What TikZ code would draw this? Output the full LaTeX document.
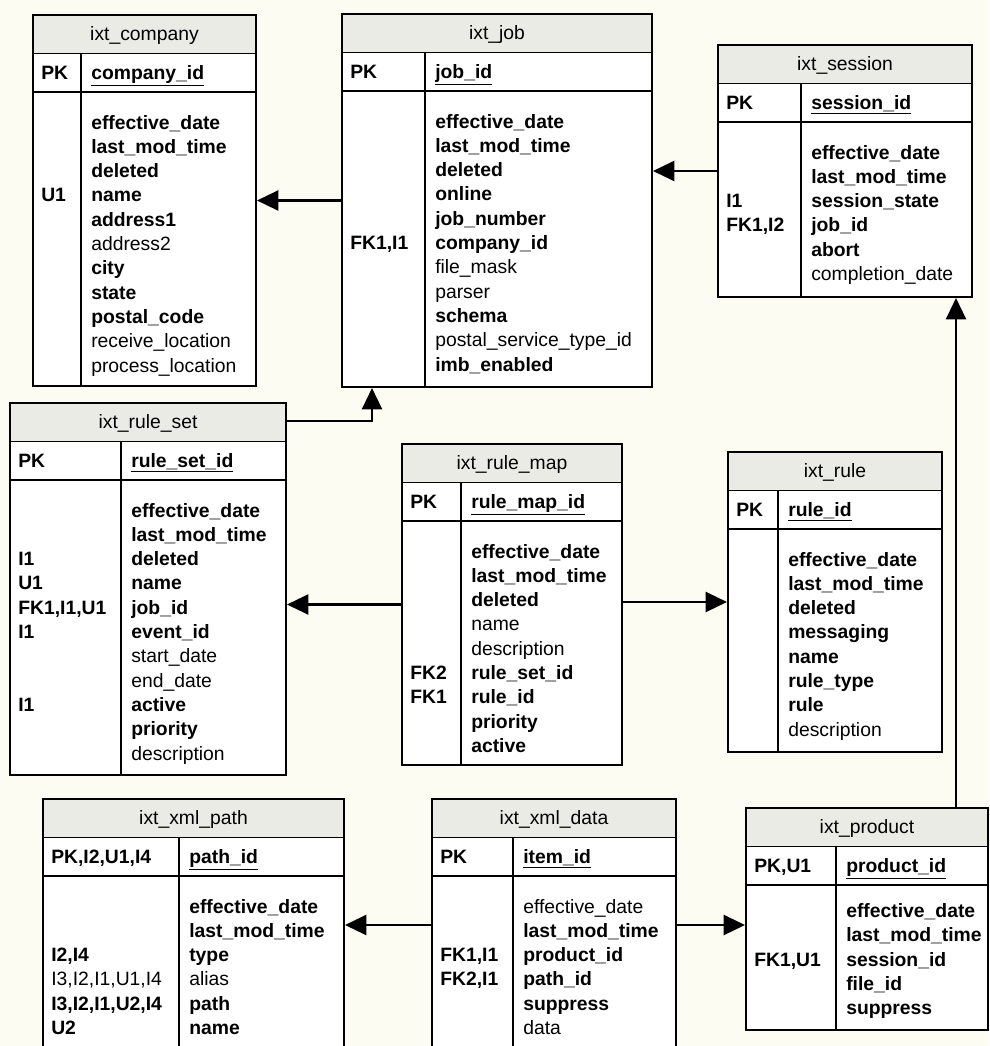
\documentclass[tikz,border=0pt]{standalone}
\usepackage{fontspec}
\setmainfont{Liberation Sans}
\usetikzlibrary{arrows.meta,fit}

\definecolor{bgcream}{RGB}{252,252,243}
\definecolor{headgray}{RGB}{235,235,229}
\newcommand{\erdfont}{\fontsize{14.5}{17}\selectfont}

\tikzset{
  tablebox/.style={draw=black, line width=1.5pt, inner sep=0pt},
  tableline/.style={draw=black, line width=1.1pt},
  titletext/.style={font=\erdfont, anchor=base, inner sep=0pt},
  keytext/.style={font=\erdfont\bfseries, anchor=base west, inner sep=0pt},
  fieldtext/.style={font=\erdfont, anchor=base west, inner sep=0pt},
  fk/.style={line width=1.7pt, -{Triangle[length=16pt,width=15pt]}},
}

% #1 first row offset, #2 name, #3-#6 box, #7 divider, #8 title, #9 key/field rows (first is the PK)
\newcommand{\erdtable}[9][30.5]{%
  \pgfmathsetmacro\erdhead{#4+38.5}%
  \pgfmathsetmacro\erdpk{#4+77}%
  \fill[white] (#3,#4) rectangle (#5,#6);
  \fill[headgray] (#3,#4) rectangle (#5,\erdhead);
  \draw[tableline] (#3,\erdhead) -- (#5,\erdhead);
  \draw[tableline] (#3,\erdpk) -- (#5,\erdpk);
  \draw[tableline] (#7,\erdhead) -- (#7,#6);
  \node[tablebox, fit={(#3,#4) (#5,#6)}] (#2) {};
  \node[titletext] (#2-title) at ({(#3+#5)/2},{#4+19.25+6.5}) {#8};
  \foreach \k/\f [count=\i] in {#9} {%
    \ifnum\i=1 \pgfmathsetmacro\erdy{#4+38.5+19.25+6.5}%
    \else \pgfmathsetmacro\erdy{\erdpk+#1+(\i-2)*24.3+6.5}\fi
    \node[keytext] (#2-k\i) at ({#3+8},\erdy) {\k};
    \node[fieldtext] (#2-f\i) at ({#7+10},\erdy) {\f};
  }%
}

\begin{document}
\begin{tikzpicture}[x=0.75pt,y=-0.75pt]
\clip (0,0) rectangle (989,1046);
\fill[bgcream] (0,0) rectangle (989,1046);

% tables
\erdtable{company}{33}{15}{256}{386}{81}{ixt\_company}{%
  PK/\underline{\textbf{company\_id}},
  /\textbf{effective\_date}, /\textbf{last\_mod\_time}, /\textbf{deleted},
  U1/\textbf{name}, /\textbf{address1}, /address2, /\textbf{city}, /\textbf{state},
  /\textbf{postal\_code}, /receive\_location, /process\_location}
\erdtable{job}{342}{14}{652}{387}{425}{ixt\_job}{%
  PK/\underline{\textbf{job\_id}},
  /\textbf{effective\_date}, /\textbf{last\_mod\_time}, /\textbf{deleted},
  /\textbf{online}, /\textbf{job\_number}, {FK1,I1}/\textbf{company\_id},
  /file\_mask, /parser, /\textbf{schema}, /postal\_service\_type\_id,
  /\textbf{imb\_enabled}}
\erdtable{session}{718}{45}{972}{297}{801}{ixt\_session}{%
  PK/\underline{\textbf{session\_id}},
  /\textbf{effective\_date}, /\textbf{last\_mod\_time}, I1/\textbf{session\_state},
  {FK1,I2}/\textbf{job\_id}, /\textbf{abort}, /completion\_date}
\erdtable{ruleset}{10}{403}{286}{775}{121}{ixt\_rule\_set}{%
  PK/\underline{\textbf{rule\_set\_id}},
  /\textbf{effective\_date}, /\textbf{last\_mod\_time}, I1/\textbf{deleted},
  U1/\textbf{name}, {FK1,I1,U1}/\textbf{job\_id}, I1/\textbf{event\_id},
  /start\_date, /end\_date, I1/\textbf{active}, /\textbf{priority}, /description}
\erdtable{rulemap}{402}{444}{622}{765}{461}{ixt\_rule\_map}{%
  PK/\underline{\textbf{rule\_map\_id}},
  /\textbf{effective\_date}, /\textbf{last\_mod\_time}, /\textbf{deleted},
  /name, /description, FK2/\textbf{rule\_set\_id}, FK1/\textbf{rule\_id},
  /\textbf{priority}, /\textbf{active}}
\erdtable{rule}{728}{452}{942}{752}{778}{ixt\_rule}{%
  PK/\underline{\textbf{rule\_id}},
  /\textbf{effective\_date}, /\textbf{last\_mod\_time}, /\textbf{deleted},
  /\textbf{messaging}, /\textbf{name}, /\textbf{rule\_type}, /\textbf{rule},
  /description}
\erdtable{xmlpath}{43}{799}{344}{1051}{179}{ixt\_xml\_path}{%
  {PK,I2,U1,I4}/\underline{\textbf{path\_id}},
  /\textbf{effective\_date}, /\textbf{last\_mod\_time}, {I2,I4}/\textbf{type},
  {\mdseries I3,I2,I1,U1,I4}/alias, {I3,I2,I1,U2,I4}/\textbf{path},
  U2/\textbf{name}}
\erdtable{xmldata}{432}{799}{676}{1051}{513}{ixt\_xml\_data}{%
  PK/\underline{\textbf{item\_id}},
  /effective\_date, /\textbf{last\_mod\_time}, {FK1,I1}/\textbf{product\_id},
  {FK2,I1}/\textbf{path\_id}, /\textbf{suppress}, /data}
\erdtable[26]{product}{746}{808}{988}{1030}{836}{ixt\_product}{%
  {PK,U1}/\underline{\textbf{product\_id}},
  /\textbf{effective\_date}, /\textbf{last\_mod\_time}, {FK1,U1}/\textbf{session\_id},
  /\textbf{file\_id}, /\textbf{suppress}}

% relationships
\coordinate (rsbend) at (372,421);
\coordinate (produp) at (956,808);
\draw[fk] (job.west |- company.east) -- (company.east);
\draw[fk] (session.west) -- (session.west -| job.east);
\draw[fk] (ruleset.east |- rsbend) -- (rsbend) -- (rsbend |- job.south);
\draw[fk] (rulemap.west) -- (rulemap.west -| ruleset.east);
\draw[fk] (rulemap.east |- rule.west) -- (rule.west);
\draw[fk] (xmldata.west) -- (xmldata.west -| xmlpath.east);
\draw[fk] (xmldata.east) -- (xmldata.east -| product.west);
\draw[fk] (produp) -- (produp |- session.south);
\end{tikzpicture}
\end{document}
